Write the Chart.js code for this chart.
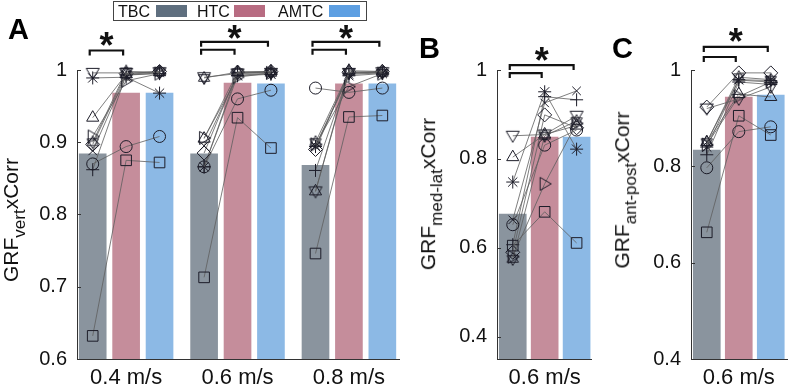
<!DOCTYPE html>
<html lang="en">
<head>
<meta charset="UTF-8">
<title>GRF cross-correlation</title>
<script src="https://cdn.jsdelivr.net/npm/chart.js"></script>
<style>
  body { margin:0; width:796px; height:389px; position:relative; background:#fff; overflow:hidden;
         font-family:"Liberation Sans", Arial, sans-serif; color:#111; }
  canvas { position:absolute; top:0; }
  .letter { position:absolute; font-weight:bold; font-size:29px; line-height:1; color:#000; }
  .ytitle { position:absolute; transform:translate(-50%,-50%) rotate(-90deg); white-space:nowrap;
            font-size:21px; line-height:1; color:#111; }
  .ytitle sub { font-size:17px; vertical-align:-0.4em; line-height:1; }
  #legend { position:absolute; left:113px; top:1px; width:252px; height:18px; border:1.5px solid #444; font-size:16px; }
  #legend span { position:absolute; top:0; line-height:19px; }
  #legend i { position:absolute; top:3px; width:31px; height:12px; }
</style>
</head>
<body>
<canvas id="chartA" width="408" height="389" style="left:0"></canvas>
<canvas id="chartB" width="190" height="389" style="left:410px"></canvas>
<canvas id="chartC" width="190" height="389" style="left:606px"></canvas>

<div class="letter" style="left:8px;top:15px">A</div>
<div class="letter" style="left:419px;top:34px">B</div>
<div class="letter" style="left:612px;top:34px">C</div>

<div class="ytitle" style="left:14px;top:220px">GRF<sub>vert</sub>xCorr</div>
<div class="ytitle" style="left:431px;top:194px">GRF<sub>med-lat</sub>xCorr</div>
<div class="ytitle" style="left:625px;top:190px">GRF<sub>ant-post</sub>xCorr</div>

<div id="legend"></div>

<script>
// groups and colours
const groups = ['TBC', 'HTC', 'AMTC'];
const barColors = ['#8a949e', '#c58d9b', '#8cb9e5'];
const legendColors = ['#5f6f7f', '#b86c82', '#5d9fe2'];
const barOffsets = [-0.3, 0, 0.3];

const speedsA = ['0.4 m/s', '0.6 m/s', '0.8 m/s'];
const speedsBC = ['0.6 m/s'];

// bar heights (mean), one entry per speed
const vertTBC = [0.884, 0.884, 0.868];
const vertHTC = [0.968, 0.982, 0.981];
const vertAMTC = [0.968, 0.981, 0.981];
const medlatTBC = [0.676];
const medlatHTC = [0.849];
const medlatAMTC = [0.849];
const antpostTBC = [0.834];
const antpostHTC = [0.944];
const antpostAMTC = [0.948];

// one marker per subject
const markers = ['circle', 'rect', 'triangle', 'triDown', 'triRight', 'rectRot', 'cross', 'crossRot', 'star', 'hexagram'];

// subject values, rows follow markers, columns TBC / HTC / AMTC
const vert04 = [
  [0.870, 0.894, 0.908],
  [0.632, 0.875, 0.872],
  [0.934, 0.994, 0.997],
  [0.996, 0.996, 0.997],
  [0.908, 0.985, 0.995],
  [0.897, 0.995, 0.998],
  [0.862, 0.993, 0.995],
  [0.888, 0.993, 0.996],
  [0.989, 0.990, 0.968],
  [0.900, 0.998, 0.997]
];
const vert06 = [
  [0.866, 0.960, 0.972],
  [0.713, 0.934, 0.892],
  [0.905, 0.997, 0.998],
  [0.990, 0.995, 0.996],
  [0.906, 0.990, 0.996],
  [0.885, 0.997, 0.998],
  [0.866, 0.996, 0.997],
  [0.895, 0.993, 0.995],
  [0.866, 0.992, 0.994],
  [0.989, 0.997, 0.996]
];
const vert08 = [
  [0.975, 0.969, 0.975],
  [0.746, 0.935, 0.937],
  [0.832, 0.999, 0.998],
  [0.832, 0.996, 0.997],
  [0.897, 0.977, 0.995],
  [0.890, 0.997, 0.998],
  [0.861, 0.995, 0.997],
  [0.895, 0.994, 0.996],
  [0.894, 0.992, 0.995],
  [0.900, 0.997, 0.996]
];
const medlat06 = [
  [0.652, 0.831, 0.865],
  [0.605, 0.681, 0.611],
  [0.804, 0.855, 0.875],
  [0.852, 0.855, 0.897],
  [0.580, 0.744, 0.880],
  [0.590, 0.899, 0.870],
  [0.607, 0.940, 0.933],
  [0.663, 0.926, 0.953],
  [0.748, 0.951, 0.822],
  [0.575, 0.852, 0.885]
];
const antpost06 = [
  [0.797, 0.872, 0.882],
  [0.663, 0.905, 0.865],
  [0.850, 0.950, 0.944],
  [0.920, 0.940, 0.965],
  [0.845, 0.945, 0.975],
  [0.923, 0.994, 0.994],
  [0.824, 0.975, 0.970],
  [0.850, 0.979, 0.975],
  [0.840, 0.980, 0.978],
  [0.850, 0.985, 0.980]
];

// y ticks
const yTicksA = [0.6, 0.7, 0.8, 0.9, 1];
const yTicksB = [0.4, 0.6, 0.8, 1];
const yTicksC = [0.4, 0.6, 0.8, 1];

// significance brackets (g = speed group, a/b = bar index, y = level in data units)
const sigA = [
  { g: 1, a: 0, b: 1, y: 1.027 },
  { g: 2, a: 0, b: 1, y: 1.028 },
  { g: 2, a: 0, b: 2, y: 1.039 },
  { g: 3, a: 0, b: 1, y: 1.028 },
  { g: 3, a: 0, b: 2, y: 1.039 }
];
const starsA = [
  { g: 1, a: 0, b: 1, y: 1.046 },
  { g: 2, a: 0, b: 2, y: 1.056 },
  { g: 3, a: 0, b: 2, y: 1.056 }
];
const sigB = [ { g: 1, a: 0, b: 1, y: 0.993 }, { g: 1, a: 0, b: 2, y: 1.011 } ];
const starsB = [ { g: 1, a: 0, b: 2, y: 1.040 } ];
const sigC = [ { g: 1, a: 0, b: 1, y: 1.027 }, { g: 1, a: 0, b: 2, y: 1.048 } ];
const starsC = [ { g: 1, a: 0, b: 2, y: 1.076 } ];

// legend (text then swatch, like the original)
const legendPos = [[4, 42], [83, 120], [164, 215]];
const legendEl = document.getElementById('legend');
groups.forEach((g, i) => {
  legendEl.insertAdjacentHTML('beforeend',
    `<span style="left:${legendPos[i][0]}px">${g}</span><i style="left:${legendPos[i][1]}px;background:${legendColors[i]}"></i>`);
});

// hollow marker images for shapes Chart.js does not have
const markerInk = '#1c1c28';
function markerCanvas(kind) {
  const s = 16, m = s / 2, r = 6.5;
  const c = document.createElement('canvas');
  c.width = s; c.height = s;
  const ctx = c.getContext('2d');
  ctx.strokeStyle = markerInk;
  ctx.lineWidth = 1;
  ctx.beginPath();
  if (kind === 'triDown') {
    ctx.moveTo(m - r, m - r * 0.7); ctx.lineTo(m + r, m - r * 0.7); ctx.lineTo(m, m + r); ctx.closePath();
  } else if (kind === 'triRight') {
    ctx.moveTo(m - r * 0.7, m - r); ctx.lineTo(m + r, m); ctx.lineTo(m - r * 0.7, m + r); ctx.closePath();
  } else if (kind === 'hexagram') {
    [-90, 90].forEach(start => {
      for (let k = 0; k < 3; k++) {
        const a = (start + k * 120) * Math.PI / 180;
        const px = m + r * Math.cos(a), py = m + r * Math.sin(a);
        k === 0 ? ctx.moveTo(px, py) : ctx.lineTo(px, py);
      }
      ctx.closePath();
    });
  }
  ctx.stroke();
  return c;
}
const customMarkers = {
  triDown: markerCanvas('triDown'),
  triRight: markerCanvas('triRight'),
  hexagram: markerCanvas('hexagram')
};
const markerRadius = { circle: 6, rect: 7.5, triangle: 7, rectRot: 7, cross: 6.5, crossRot: 6, star: 6.5 };

const extras = {
  id: 'extras',
  afterDatasetsDraw(chart, args, o) {
    const { ctx, chartArea, scales: { x, y } } = chart;
    ctx.save();
    ctx.strokeStyle = '#333';
    ctx.lineWidth = 1;
    y.ticks.forEach(t => {
      const py = Math.round(y.getPixelForValue(t.value)) + 0.5;
      ctx.beginPath();
      ctx.moveTo(chartArea.left, py);
      ctx.lineTo(chartArea.left + 4, py);
      ctx.stroke();
    });
    ctx.strokeStyle = '#111';
    ctx.lineWidth = 2.2;
    o.brackets.forEach(b => {
      const x1 = x.getPixelForValue(b.g + barOffsets[b.a]) - 3;
      const x2 = x.getPixelForValue(b.g + barOffsets[b.b]) - 3;
      const py = y.getPixelForValue(b.y);
      ctx.beginPath();
      ctx.moveTo(x1, py + 5);
      ctx.lineTo(x1, py);
      ctx.lineTo(x2, py);
      ctx.lineTo(x2, py + 5);
      ctx.stroke();
    });
    ctx.fillStyle = '#111';
    ctx.font = 'bold 36px "Liberation Sans", Arial, sans-serif';
    ctx.textAlign = 'center';
    ctx.textBaseline = 'alphabetic';
    o.stars.forEach(s => {
      const x1 = x.getPixelForValue(s.g + barOffsets[s.a]) - 3;
      const x2 = x.getPixelForValue(s.g + barOffsets[s.b]) - 3;
      ctx.fillText('*', (x1 + x2) / 2, y.getPixelForValue(s.y) + 21);
    });
    ctx.restore();
  }
};

const tickFont = { family: '"Liberation Sans", Arial, sans-serif', size: 20 };
const labelFont = { family: '"Liberation Sans", Arial, sans-serif', size: 22 };

function makePanel(id, p) {
  const datasets = [];
  p.bars.forEach((vals, k) => {
    datasets.push({
      type: 'bar',
      label: groups[k],
      data: vals.map((v, gi) => ({ x: gi + 1 + barOffsets[k], y: v })),
      backgroundColor: barColors[k],
      barThickness: 27,
      grouped: false,
      base: p.yMin,
      clip: 0,
      order: 10
    });
  });
  p.subjects.forEach((rows, gi) => {
    rows.forEach((vals, si) => {
      const mk = markers[si];
      datasets.push({
        type: 'line',
        data: vals.map((v, k) => ({ x: gi + 1 + barOffsets[k], y: v })),
        borderColor: '#5e5e5e',
        borderWidth: 0.8,
        tension: 0,
        pointStyle: customMarkers[mk] || mk,
        pointRadius: markerRadius[mk] || 6,
        pointBorderColor: markerInk,
        pointBorderWidth: 1,
        pointBackgroundColor: 'rgba(0,0,0,0)',
        clip: false,
        order: 0
      });
    });
  });

  new Chart(document.getElementById(id), {
    type: 'bar',
    data: { datasets },
    options: {
      responsive: false,
      animation: false,
      layout: { padding: { top: 70, right: 0, bottom: 0, left: 0 } },
      plugins: {
        legend: { display: false },
        tooltip: { enabled: false },
        extras: { brackets: p.brackets, stars: p.stars }
      },
      scales: {
        x: {
          type: 'linear',
          min: p.xMin,
          max: p.xMax,
          offset: false,
          grid: { display: false, offset: false, drawTicks: false, tickLength: 0 },
          border: { display: true, color: '#333', width: 1 },
          afterBuildTicks: s => { s.ticks = p.labels.map((l, i) => ({ value: i + 1 })); },
          afterFit: s => { s.height = 30; },
          ticks: {
            font: labelFont,
            color: '#111',
            padding: 6,
            maxRotation: 0,
            callback: v => p.labels[Math.round(v) - 1]
          }
        },
        y: {
          min: p.yMin,
          max: 1,
          grid: { display: false, drawTicks: false, tickLength: 0 },
          border: { display: true, color: '#333', width: 1 },
          afterBuildTicks: s => { s.ticks = p.yTicks.map(v => ({ value: v })); },
          afterFit: s => { s.width = p.yWidth; },
          ticks: {
            font: tickFont,
            color: '#111',
            padding: 10,
            callback: v => String(+v.toFixed(2))
          }
        }
      }
    },
    plugins: [extras]
  });
}

makePanel('chartA', {
  bars: [vertTBC, vertHTC, vertAMTC],
  subjects: [vert04, vert06, vert08],
  labels: speedsA,
  yMin: 0.6, yTicks: yTicksA, yWidth: 77,
  xMin: 0.559, xMax: 3.454,
  brackets: sigA, stars: starsA
});
makePanel('chartB', {
  bars: [medlatTBC, medlatHTC, medlatAMTC],
  subjects: [medlat06],
  labels: speedsBC,
  yMin: 0.35, yTicks: yTicksB, yWidth: 87,
  xMin: 0.552, xMax: 1.44,
  brackets: sigB, stars: starsB
});
makePanel('chartC', {
  bars: [antpostTBC, antpostHTC, antpostAMTC],
  subjects: [antpost06],
  labels: speedsBC,
  yMin: 0.4, yTicks: yTicksC, yWidth: 85,
  xMin: 0.552, xMax: 1.457,
  brackets: sigC, stars: starsC
});
</script>
</body>
</html>
